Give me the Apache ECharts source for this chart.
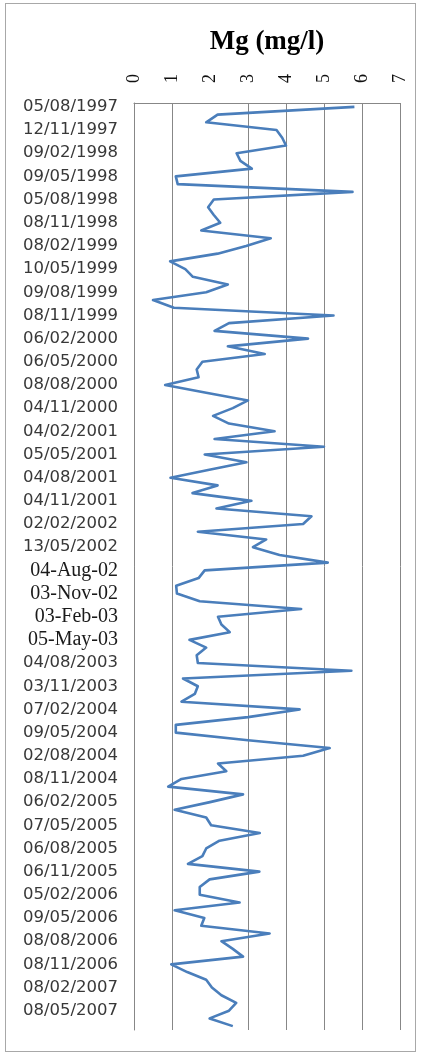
<!DOCTYPE html>
<html>
<head>
<meta charset="utf-8">
<style>
  html, body { margin: 0; padding: 0; background: #fff; }
  #wrap { position: relative; width: 421px; height: 1056px; }
  #chart { position: absolute; left: 0; top: 0; width: 421px; height: 1056px; }
  #frame { position: absolute; left: 5px; top: 3px; width: 411px; height: 1049px;
           border: 1px solid #a8a8a8; pointer-events: none; box-sizing: border-box; }
</style>
<script src="https://cdn.jsdelivr.net/npm/echarts@6/dist/echarts.min.js"></script>
</head>
<body>
<div id="wrap">
  <div id="chart"></div>
  <div id="frame"></div>
</div>
<script>
// Sampling dates shown on the category axis (one every third monthly sample)
const tickLabels = [
  '05/08/1997', '12/11/1997', '09/02/1998', '09/05/1998', '05/08/1998',
  '08/11/1998', '08/02/1999', '10/05/1999', '09/08/1999', '08/11/1999',
  '06/02/2000', '06/05/2000', '08/08/2000', '04/11/2000', '04/02/2001',
  '05/05/2001', '04/08/2001', '04/11/2001', '02/02/2002', '13/05/2002',
  '04-Aug-02', '03-Nov-02', '03-Feb-03', '05-May-03', '04/08/2003',
  '03/11/2003', '07/02/2004', '09/05/2004', '02/08/2004', '08/11/2004',
  '06/02/2005', '07/05/2005', '06/08/2005', '06/11/2005', '05/02/2006',
  '09/05/2006', '08/08/2006', '08/11/2006', '08/02/2007', '08/05/2007'
];

// Monthly magnesium concentration, mg/l (Aug 1997 - Jul 2007)
const mgValues = [
  5.8, 2.2, 1.9, 3.75, 3.9, 4.0, 2.7, 2.8, 3.1, 1.1,
  1.15, 5.75, 2.1, 1.95, 2.1, 2.27, 1.77, 3.6, 2.95, 2.2,
  0.95, 1.35, 1.55, 2.47, 1.9, 0.5, 1.05, 5.25, 2.5, 2.12,
  4.58, 2.47, 3.44, 1.8, 1.65, 1.7, 0.82, 1.9, 3.0, 2.6,
  2.08, 2.5, 3.7, 2.12, 5.0, 1.86, 2.96, 1.95, 0.96, 2.2,
  1.54, 3.09, 2.17, 4.67, 4.45, 1.68, 3.48, 3.13, 3.83, 5.1,
  1.86, 1.7, 1.11, 1.13, 1.73, 4.4, 2.21, 2.3, 2.52, 1.46,
  1.9, 1.65, 1.68, 5.72, 1.29, 1.68, 1.6, 1.25, 4.36, 3.0,
  1.1, 1.1, 3.0, 5.15, 4.45, 2.21, 2.43, 1.25, 0.9, 2.87,
  2.0, 1.07, 1.9, 2.03, 3.31, 2.25, 1.9, 1.8, 1.42, 3.3,
  1.99, 1.73, 1.73, 2.78, 1.07, 1.85, 1.77, 3.57, 2.3, 2.6,
  2.87, 0.98, 1.4, 1.9, 2.05, 2.3, 2.69, 2.5, 1.99, 2.6
];

// Value axis range and step
const valueMin = 0;
const valueMax = 7;
const valueStep = 1;

// One category per monthly sample; only every third carries a date label
const categories = mgValues.map((v, i) => (i % 3 === 0 ? tickLabels[i / 3] : ''));

const gridColor = '#878787';
// the split line at 2 is not drawn
const splitColors = [gridColor, gridColor, 'rgba(0,0,0,0)', gridColor, gridColor, gridColor, gridColor, gridColor];

const chart = echarts.init(document.getElementById('chart'), null, { renderer: 'canvas' });
chart.setOption({
  animation: false,
  backgroundColor: '#ffffff',
  title: {
    text: 'Mg (mg/l)',
    left: 267,
    top: 29,
    padding: 0,
    textAlign: 'center',
    textStyle: {
      fontFamily: 'Liberation Serif',
      fontWeight: 'bold',
      fontSize: 27,
      color: '#000'
    }
  },
  grid: { left: 134, right: 21, top: 103, height: 927, containLabel: false },
  xAxis: {
    type: 'value',
    position: 'top',
    min: valueMin,
    max: valueMax,
    interval: valueStep,
    axisLine: { show: true, lineStyle: { color: gridColor, width: 1 } },
    axisTick: { show: false },
    axisLabel: {
      rotate: -90,
      margin: 20,
      fontFamily: 'Liberation Serif',
      fontSize: 18,
      color: '#111'
    },
    splitLine: { show: true, lineStyle: { color: splitColors, width: 1 } }
  },
  yAxis: {
    type: 'category',
    inverse: true,
    boundaryGap: true,
    data: categories,
    axisLine: { show: true, lineStyle: { color: gridColor, width: 1 } },
    axisTick: { show: false },
    splitLine: { show: false },
    axisLabel: {
      interval: 2,
      margin: 16,
      fontFamily: 'DejaVu Sans',
      fontSize: 16.5,
      color: '#383838',
      formatter: function (v) {
        return v.indexOf('-') >= 0 ? '{s|' + v + '}' : v;
      },
      rich: {
        s: { fontFamily: 'Liberation Serif', fontSize: 20, color: '#1a1a1a' }
      }
    }
  },
  series: [{
    type: 'line',
    data: mgValues,
    symbol: 'none',
    lineStyle: { color: '#4A7EBB', width: 2.6, join: 'round' },
    z: 3
  }]
});
</script>
</body>
</html>
